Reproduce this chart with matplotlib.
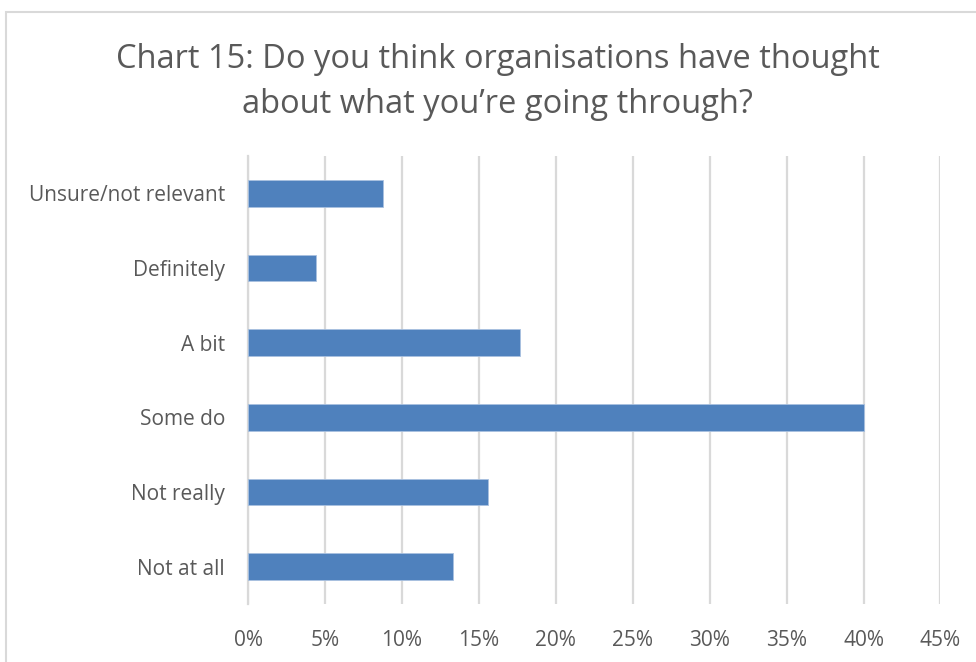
import matplotlib.pyplot as plt
from matplotlib.patches import Rectangle
from matplotlib.ticker import FuncFormatter, MultipleLocator

categories = ["Not at all", "Not really", "Some do", "A bit", "Definitely", "Unsure/not relevant"]
shares = [13.3, 15.6, 40.0, 17.7, 4.4, 8.8]
title = "Chart 15: Do you think organisations have thought\nabout what you\u2019re going through?"

text_grey = "#595959"
grid_grey = "#d9d9d9"
bar_blue = "#4f81bd"

plt.rcParams["font.family"] = ["Open Sans", "DejaVu Sans"]

fig = plt.figure(figsize=(9.76, 6.62), dpi=100)
ax = fig.add_axes([0.2541, 0.0876, 0.7095, 0.6768])

# chart frame
fig.patches.append(Rectangle((6 / 976, -0.1), 1.2, 1 - 12 / 662 + 0.1,
                             transform=fig.transFigure, fill=False,
                             edgecolor=grid_grey, linewidth=1.5))

ax.barh(range(len(categories)), shares, height=0.36, color=bar_blue,
        edgecolor="#a9c1e0", linewidth=0.6, zorder=3)

ax.set_xlim(0, 45)
ax.set_ylim(-0.5, len(categories) - 0.5)
ax.xaxis.set_major_locator(MultipleLocator(5))
ax.xaxis.set_major_formatter(FuncFormatter(lambda v, _: f"{v:.0f}%"))
ax.set_yticks(range(len(categories)))
ax.set_yticklabels(categories)

ax.grid(axis="x", color=grid_grey, linewidth=1.6, zorder=0)
for side in ["top", "right", "bottom"]:
    ax.spines[side].set_visible(False)
ax.spines["left"].set_color(grid_grey)
ax.spines["left"].set_linewidth(1.6)
ax.tick_params(axis="both", length=0, colors=text_grey, labelsize=15)
ax.tick_params(axis="x", pad=19)
ax.tick_params(axis="y", pad=16.5)

fig.text(0.51, 0.876, title, ha="center", va="center", fontsize=23.5,
         color=text_grey, linespacing=1.45)

fig.savefig("out.png", dpi=100)
